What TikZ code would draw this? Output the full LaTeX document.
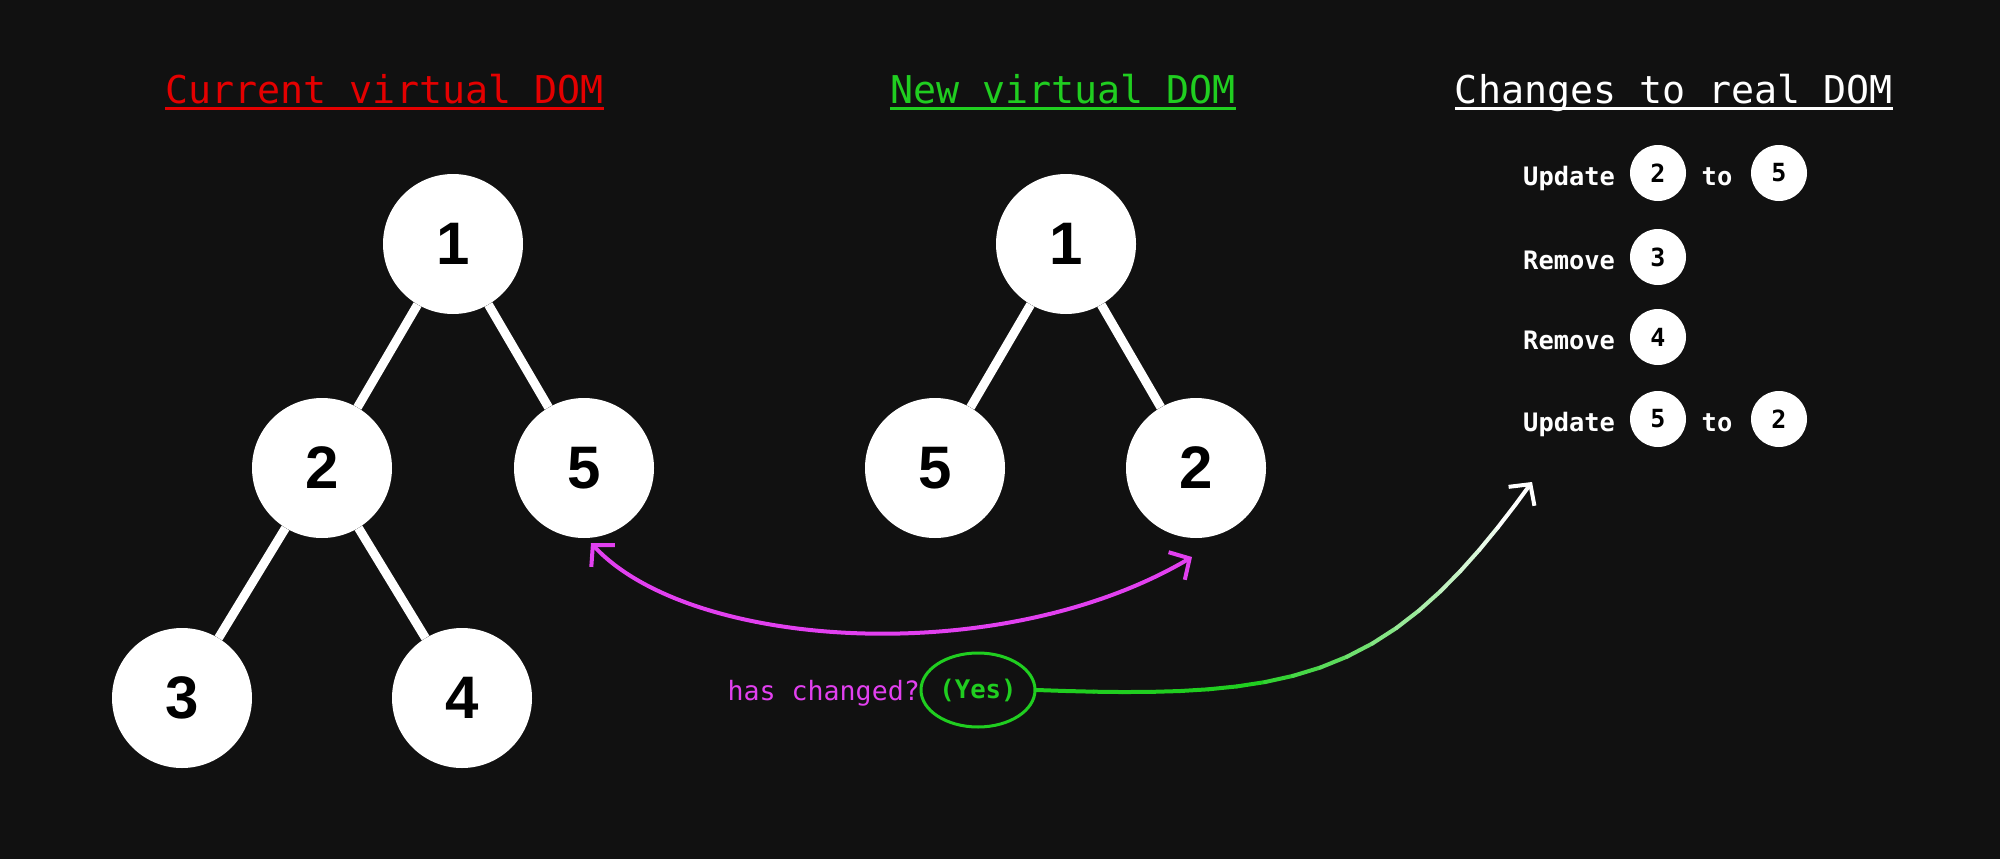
\documentclass[tikz,border=0pt]{standalone}
\usepackage{fontspec}
\setmonofont{DejaVu Sans Mono}
\newfontfamily\digitfont{Liberation Sans}
\usetikzlibrary{arrows.meta,shapes.geometric,decorations.markings}

\definecolor{bgdark}{RGB}{17,17,17}
\definecolor{curred}{RGB}{228,0,0}
\definecolor{newgreen}{RGB}{32,206,32}
\definecolor{askpink}{RGB}{226,64,240}

\tikzset{
    treenode/.style={circle, fill=white, text=black, minimum size=140pt, inner sep=0pt,
        font=\digitfont\bfseries\fontsize{60}{60}\selectfont},
    smallnode/.style={circle, fill=white, text=black, minimum size=56pt, inner sep=0pt,
        font=\ttfamily\bfseries\fontsize{25}{25}\selectfont},
    treeedge/.style={white, line width=9pt},
    heading/.style={anchor=base, inner sep=0pt, font=\ttfamily\fontsize{38.3}{40}\selectfont},
    listlbl/.style={anchor=base west, inner sep=0pt, text=white,
        font=\ttfamily\bfseries\fontsize{25.4}{26}\selectfont}
}

\begin{document}
\begin{tikzpicture}[x=1pt, y=-1pt, >={Straight Barb[length=15pt,width=32pt]}]
    % Background
    \fill[bgdark] (0,0) rectangle (2000,859);

    % Headings
    \node[heading, text=curred] (hcur) at (384.5,103) {Current virtual DOM};
    \node[heading, text=newgreen] (hnew) at (1063,103) {New virtual DOM};
    \node[heading, text=white] (hreal) at (1674,103) {Changes to real DOM};
    \draw[curred, line width=3pt] ([yshift=-5pt]hcur.base west) -- ([yshift=-5pt]hcur.base east);
    \draw[newgreen, line width=3pt] ([yshift=-5pt]hnew.base west) -- ([yshift=-5pt]hnew.base east);
    \draw[white, line width=3pt] ([yshift=-5pt]hreal.base west) -- ([yshift=-5pt]hreal.base east);

    % Current virtual DOM
    \node[treenode] (c1) at (453,244) {1};
    \node[treenode] (c2) at (322,468) {2};
    \node[treenode] (c5) at (584,468) {5};
    \node[treenode] (c3) at (182,698) {3};
    \node[treenode] (c4) at (462,698) {4};
    \draw[treeedge] (c1) -- (c2);
    \draw[treeedge] (c1) -- (c5);
    \draw[treeedge] (c2) -- (c3);
    \draw[treeedge] (c2) -- (c4);

    % New virtual DOM
    \node[treenode] (n1) at (1066,244) {1};
    \node[treenode] (n5) at (935,468) {5};
    \node[treenode] (n2) at (1196,468) {2};
    \draw[treeedge] (n1) -- (n5);
    \draw[treeedge] (n1) -- (n2);

    % Changes to real DOM
    \node[listlbl] (u1) at (1523,185) {Update};
    \node[smallnode] (u1a) at (1658,173) {2};
    \node[listlbl, anchor=base] (u1t) at (1717,185) {to};
    \node[smallnode] (u1b) at (1779,173) {5};

    \node[listlbl] (r3) at (1523,269) {Remove};
    \node[smallnode] (r3a) at (1658,257) {3};

    \node[listlbl] (r4) at (1523,349) {Remove};
    \node[smallnode] (r4a) at (1658,337) {4};

    \node[listlbl] (u2) at (1523,431) {Update};
    \node[smallnode] (u2a) at (1658,419) {5};
    \node[listlbl, anchor=base] (u2t) at (1717,431) {to};
    \node[smallnode] (u2b) at (1779,419) {2};

    % Comparison arrow
    \coordinate (pa) at ([shift={(7,75)}]c5.center);
    \coordinate (pb) at ([shift={(-4,89)}]n2.center);
    \draw[askpink, line width=4pt, <->]
    (pa) .. controls (690,650) and (1000,670) .. (pb);

    % Has changed?
    \node[ellipse, draw=newgreen, line width=3pt, minimum width=114pt, minimum height=74pt,
        inner sep=0pt, text=newgreen, font=\ttfamily\bfseries\fontsize{25.6}{26}\selectfont]
        (yes) at (978,690) {(Yes)};
    \node[anchor=base east, inner sep=0pt, text=askpink,
        font=\ttfamily\fontsize{26.6}{27}\selectfont] (ask) at (920,700) {has changed?};

    % Arrow to real DOM, green fading to white
    \coordinate (realtip) at (1532,482);
    \path[decorate, decoration={markings, mark=between positions 0 and 0.96 step 0.05 with
        {\coordinate (g\pgfkeysvalueof{/pgf/decoration/mark info/sequence number});}}]
    (yes.east) .. controls (1300,700) and (1390,680) .. (realtip);
    \foreach \k in {1,...,19}{
        \pgfmathtruncatemacro\nxt{\k+1}
        \pgfmathtruncatemacro\w{max(0,(\k-8)*9)}
        \draw[line width=4pt, line cap=round, white!\w!newgreen] (g\k) -- (g\nxt);
    }
    \draw[line width=4pt, white, ->] (g20) -- (realtip);
\end{tikzpicture}
\end{document}
